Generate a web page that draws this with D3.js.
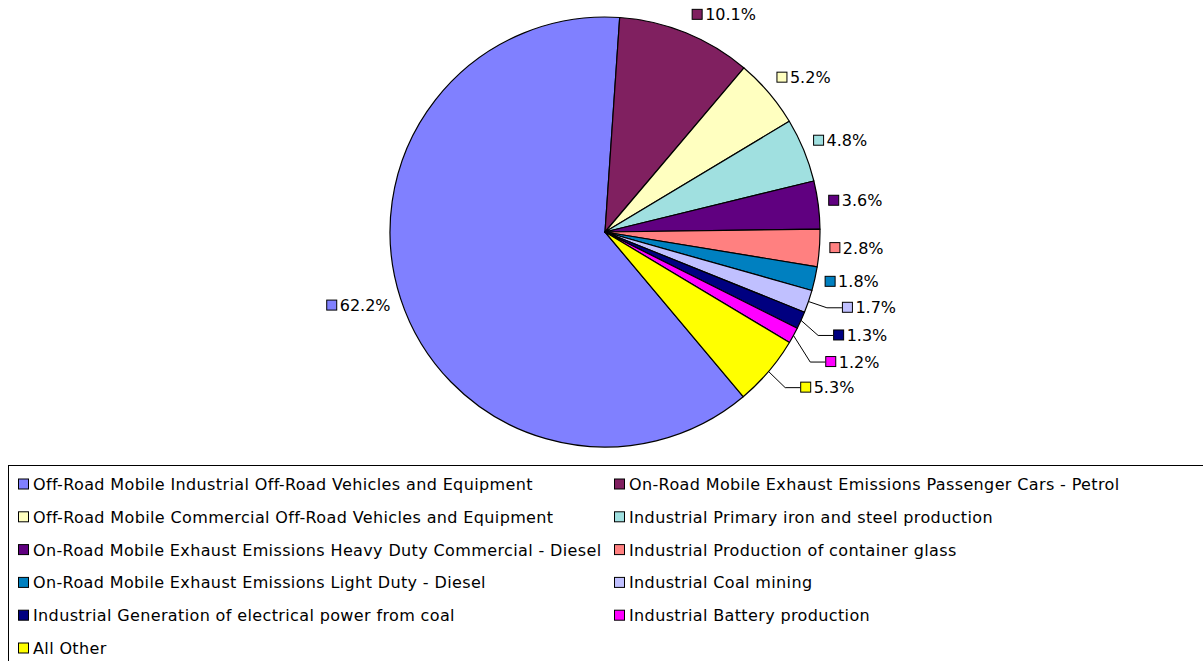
<!DOCTYPE html>
<html><head><meta charset="utf-8">
<script src="https://cdn.jsdelivr.net/npm/d3@7"></script>
<style>body{margin:0;background:#fff}svg{display:block}text{font-family:"DejaVu Sans",Verdana,sans-serif}</style>
</head><body>
<svg id="c" width="1203" height="661"></svg>
<script>
const categories = [
  "Off-Road Mobile Industrial Off-Road Vehicles and Equipment",
  "On-Road Mobile Exhaust Emissions Passenger Cars - Petrol",
  "Off-Road Mobile Commercial Off-Road Vehicles and Equipment",
  "Industrial Primary iron and steel production",
  "On-Road Mobile Exhaust Emissions Heavy Duty Commercial - Diesel",
  "Industrial Production of container glass",
  "On-Road Mobile Exhaust Emissions Light Duty - Diesel",
  "Industrial Coal mining",
  "Industrial Generation of electrical power from coal",
  "Industrial Battery production",
  "All Other"
];
const values = [62.2, 10.1, 5.2, 4.8, 3.6, 2.8, 1.8, 1.7, 1.3, 1.2, 5.3];
const colors = ["#8080FF","#802060","#FFFFC0","#A0E0E0","#600080","#FF8080","#0080C0","#C0C0FF","#000080","#FF00FF","#FFFF00"];
// extra label displacement for crowded small slices (those with dx get leader lines)
const labelShift = [[0,2],[2,3],[0,0],[0,0],[0,0],[0,0],[0,0],[24,1],[23,8],[23,18],[24,4]];

const W = 1203, H = 661;
const cx = 605, cy = 232, R = 215;
const fontSize = 16;
const svg = d3.select("#c");

const start = 140 * Math.PI / 180;
const pie = d3.pie().sort(null).value(d => d).startAngle(start).endAngle(start + 2 * Math.PI);
const arcs = pie(values);
const arc = d3.arc().innerRadius(0).outerRadius(R);

const g = svg.append("g").attr("transform", `translate(${cx},${cy})`);
g.selectAll("path").data(arcs).join("path")
  .attr("d", arc)
  .attr("fill", (d, i) => colors[i])
  .attr("stroke", "#000").attr("stroke-width", 1.2).attr("stroke-linejoin", "round");

// labels
const lg = svg.append("g");
arcs.forEach((d, i) => {
  const a = (d.startAngle + d.endAngle) / 2;
  const s = Math.sin(a), c = -Math.cos(a);
  const right = s >= 0;
  let x = cx + 225 * s;
  let y = cy + 236 * c - 2;
  const [dx, dy] = labelShift[i];
  x += dx; y += dy;
  const txt = values[i].toFixed(1) + "%";
  const item = lg.append("g");
  const t = item.append("text").attr("font-size", fontSize).attr("fill", "#000")
    .attr("dominant-baseline", "central").text(txt);
  const tw = t.node().getComputedTextLength();
  const total = 14 + tw;
  const x0 = right ? x : x - total;
  item.insert("rect", "text").attr("x", x0 + 0.5).attr("y", y - 5).attr("width", 10).attr("height", 10)
    .attr("fill", colors[i]).attr("stroke", "#000").attr("stroke-width", 1);
  t.attr("x", x0 + 13.5).attr("y", y + 0.5);
  if (dx > 10) {
    const ex = cx + R * s, ey = cy + R * c;
    lg.append("polyline")
      .attr("points", [[ex, ey], [x0 - 15, y + 0.5], [x0, y + 0.5]].map(p => p.join(",")).join(" "))
      .attr("fill", "none").attr("stroke", "#000").attr("stroke-width", 1);
  }
});

// legend
const leg = svg.append("g");
leg.append("rect").attr("x", 8.5).attr("y", 465.5).attr("width", 1200).attr("height", 220)
  .attr("fill", "#fff").attr("stroke", "#000").attr("stroke-width", 1);
const colX = [18, 614];
const rowY0 = 484, rowStep = 32.8;
categories.forEach((name, i) => {
  const col = i % 2, row = Math.floor(i / 2);
  const x = colX[col], y = rowY0 + row * rowStep;
  leg.append("rect").attr("x", x + 0.5).attr("y", y - 5).attr("width", 10).attr("height", 10)
    .attr("fill", colors[i]).attr("stroke", "#000").attr("stroke-width", 1);
  leg.append("text").attr("x", x + 15).attr("y", y + 0.5).attr("font-size", fontSize)
    .attr("letter-spacing", 0.37)
    .attr("dominant-baseline", "central").attr("fill", "#000").text(name);
});
</script>
</body></html>
